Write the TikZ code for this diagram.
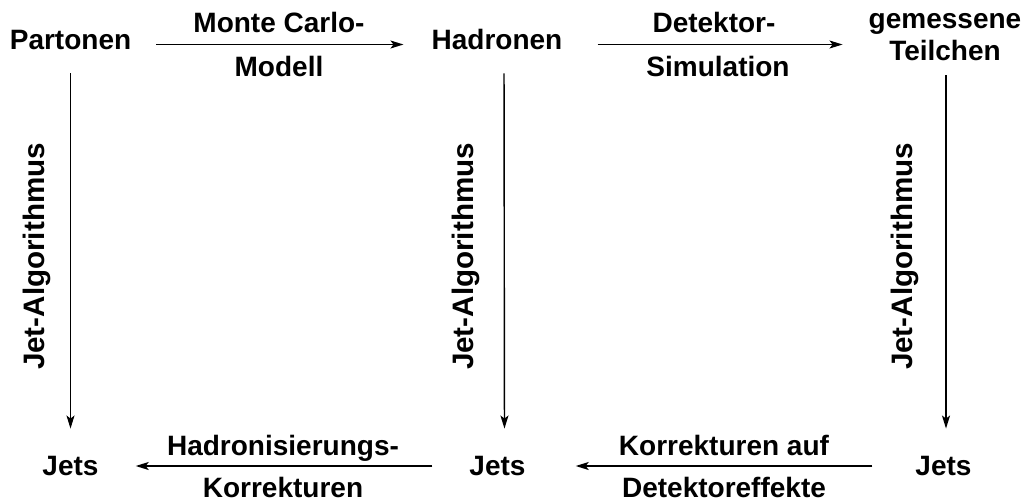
\documentclass[tikz,border=0pt]{standalone}
\usepackage{fontspec}
\setmainfont{Liberation Sans}
\usetikzlibrary{arrows.meta}
\begin{document}
\begin{tikzpicture}[x=1pt,y=-1pt,
  lbl/.style={font=\bfseries\fontsize{28}{33}\selectfont, inner sep=0pt, anchor=base},
  vlbl/.style={font=\bfseries\fontsize{29.6}{33}\selectfont, inner sep=0pt, rotate=90},
  arr/.style={-{Stealth[length=13pt,width=8pt,inset=3pt]}, line width=1.4pt}]
\useasboundingbox (0,0) rectangle (1025,501);
% top row
\node[lbl] (P) at (70.5,49) {Partonen};
\node[lbl] (H) at (497,49) {Hadronen};
\node[lbl] (Ta) at (945,28) {gemessene};
\node[lbl] (Tb) at (945,60) {Teilchen};
% bottom row
\node[lbl] (J1) at (70.5,475) {Jets};
\node[lbl] (J2) at (497.5,475) {Jets};
\node[lbl] (J3) at (943.5,475) {Jets};
% arrow labels
\node[lbl] (L1a) at (279,32) {Monte Carlo-};
\node[lbl] (L1b) at (279,76) {Modell};
\node[lbl] (L2a) at (714,32) {Detektor-};
\node[lbl] (L2b) at (718,76) {Simulation};
\node[lbl] (L3a) at (283,455) {Hadronisierungs-};
\node[lbl] (L3b) at (283,497) {Korrekturen};
\node[lbl] (L4a) at (724,455) {Korrekturen auf};
\node[lbl] (L4b) at (724,497) {Detektoreffekte};
% vertical labels
\node[vlbl] (V1) at (36.5,256.5) {Jet-Algorithmus};
\node[vlbl] (V2) at (466,256.5) {Jet-Algorithmus};
\node[vlbl] (V3) at (905,256.5) {Jet-Algorithmus};
% horizontal arrows
\draw[arr, shorten <=25pt, shorten >=28pt] (P.east |- 0,44.5) -- (H.west |- 0,44.5);
\draw[arr, shorten <=35pt, shorten >=26pt] (H.east |- 0,44.5) -- (Ta.west |- 0,44.5);
\draw[arr, shorten <=43pt, shorten >=50pt] (J3.west |- 0,466) -- (J2.east |- 0,466);
\draw[arr, shorten <=37pt, shorten >=37pt] (J2.west |- 0,466) -- (J1.east |- 0,466);
% vertical arrows
\draw[arr, shorten <=24pt, shorten >=27pt] (P.south) -- (J1.north);
\draw[arr, shorten <=24pt, shorten >=27pt] ([xshift=7pt]H.south) -- ([xshift=7pt]J2.north);
\draw[arr, shorten <=15pt, shorten >=27pt] (Tb.south -| 946,0) -- (J3.north -| 946,0);
\end{tikzpicture}
\end{document}
